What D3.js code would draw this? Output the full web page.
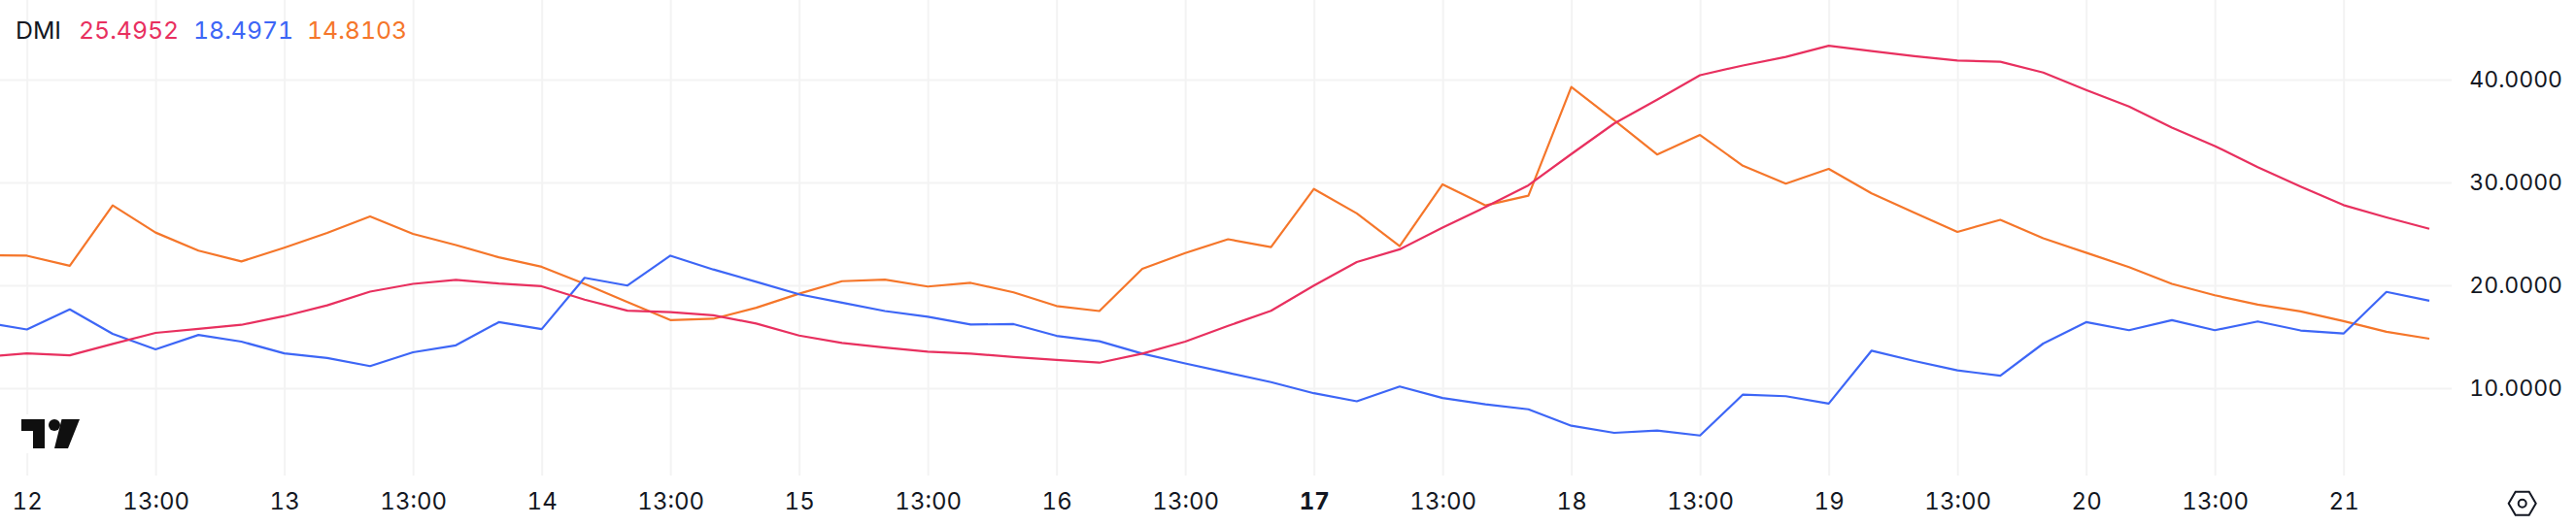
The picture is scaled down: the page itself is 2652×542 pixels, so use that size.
<!DOCTYPE html>
<html>
<head>
<meta charset="utf-8">
<script src="https://cdnjs.cloudflare.com/ajax/libs/d3/7.8.5/d3.min.js"></script>
<style>
	html, body { margin: 0; padding: 0; background: #fff; }
	svg { display: block; }
	text { font-family: Inter, "Noto Sans", sans-serif; fill: #131722; font-variant-numeric: tabular-nums; }
	.domain { display: none; }
	.tick line { stroke: #f3f3f3; stroke-width: 2; }
</style>
</head>
<body>
<div id="chart"></div>
<script>
// DMI values, one every 4 hours-ish
const adx = [13.03,13.39,13.19,14.30,15.38,15.77,16.16,17.01,18.05,19.39,20.14,20.53,20.17,19.91,18.61,17.53,17.40,17.08,16.29,15.12,14.40,13.95,13.55,13.36,13.03,12.74,12.48,13.36,14.53,16.06,17.53,19.98,22.26,23.50,25.62,27.61,29.72,32.76,35.73,38.04,40.42,41.37,42.21,43.29,42.77,42.28,41.86,41.73,40.68,38.99,37.39,35.33,33.54,31.49,29.59,27.80,26.60,25.4952];
const plusDi = [16.42,15.71,17.66,15.28,13.78,15.18,14.53,13.39,12.93,12.15,13.49,14.17,16.42,15.74,20.73,19.98,22.88,21.54,20.34,19.13,18.31,17.50,16.94,16.19,16.23,15.09,14.56,13.36,12.41,11.50,10.59,9.51,8.73,10.16,9.05,8.43,7.95,6.35,5.66,5.89,5.40,9.38,9.22,8.50,13.65,12.64,11.73,11.21,14.34,16.42,15.64,16.62,15.64,16.49,15.61,15.31,19.36,18.4971];
const minusDi = [22.94,22.88,21.90,27.77,25.13,23.37,22.32,23.66,25.10,26.69,25.00,23.92,22.72,21.80,20.14,18.38,16.62,16.75,17.82,19.19,20.40,20.56,19.88,20.24,19.32,17.99,17.50,21.61,23.14,24.48,23.72,29.37,26.99,23.82,29.82,27.77,28.72,39.28,36.05,32.72,34.62,31.62,29.89,31.32,28.94,27.05,25.19,26.37,24.57,23.17,21.77,20.14,19.03,18.12,17.47,16.52,15.48,14.8103];
const tickLabels = ["12","13:00","13","13:00","14","13:00","15","13:00","16","13:00","17","13:00","18","13:00","19","13:00","20","13:00","21"];
const yTicks = [10,20,30,40];
const legendName = "DMI";

const width = 2652, height = 542;
const plotRight = 2524, plotBottom = 490;

const colors = { adx: "#e8305f", plus: "#3d66f6", minus: "#f5762a" };

var svg = d3.select("#chart").append("svg")
	.attr("width", width)
	.attr("height", height);

var x = d3.scaleLinear().domain([0, adx.length - 1]).range([-16.5, 2501]);
var y = d3.scaleLinear().domain([10, 40]).range([400, 82]);

// every third point carries a label, starting at the second one
var tickIdx = tickLabels.map(function(d, i){ return 1 + i * 3 });

var xGrid = svg.append("g")
	.attr("transform", "translate(0," + plotBottom + ")")
	.call(d3.axisBottom(x).tickValues(tickIdx).tickSize(-plotBottom).tickPadding(18)
		.tickFormat(function(d, i){ return tickLabels[i] }));
xGrid.selectAll("text")
	.style("font-size", "24px")
	.style("font-weight", function(d, i){ return tickLabels[i] == "17" ? 700 : 400 });

var yGrid = svg.append("g")
	.attr("transform", "translate(" + plotRight + ",0)")
	.call(d3.axisRight(y).tickValues(yTicks).tickSize(-plotRight).tickPadding(18)
		.tickFormat(d3.format(".4f")));
yGrid.selectAll("text")
	.attr("text-anchor", "end")
	.attr("x", 114)
	.style("font-size", "23px");

var line = d3.line()
	.x(function(d, i){ return x(i) })
	.y(function(d){ return y(d) });

[[minusDi, colors.minus], [plusDi, colors.plus], [adx, colors.adx]].forEach(function(s){
	svg.append("path")
		.datum(s[0])
		.attr("fill", "none")
		.attr("stroke", s[1])
		.attr("stroke-width", 2.2)
		.attr("stroke-linejoin", "round")
		.attr("d", line);
});

// legend
var legend = svg.append("g").style("font-size", "24.8px");
legend.append("text").attr("x", 16).attr("y", 40).text(legendName);
[[adx, colors.adx, 81], [plusDi, colors.plus, 199], [minusDi, colors.minus, 316]].forEach(function(s){
	legend.append("text")
		.attr("x", s[2])
		.attr("y", 40)
		.style("fill", s[1])
		.text(d3.format(".4f")(s[0][s[0].length - 1]));
});

// tradingview logo
var logo = svg.append("g");
logo.append("rect").attr("x", 17).attr("y", 427).attr("width", 70).attr("height", 40).attr("fill", "#fff");
logo.append("path").attr("fill", "#0f0f0f").attr("d", "M22 432H46V462H34V444H22Z");
logo.append("circle").attr("fill", "#0f0f0f").attr("cx", 56).attr("cy", 438).attr("r", 6);
logo.append("path").attr("fill", "#0f0f0f").attr("d", "M63.5 432H82L70 462H56Z");

// settings hexagon
var hex = svg.append("g").attr("transform", "translate(2596.7,518.7)")
	.attr("fill", "none").attr("stroke", "#131722").attr("stroke-width", 2);
hex.append("path").attr("d", "M-14 0L-7 -12H7L14 0L7 12H-7Z");
hex.append("circle").attr("r", 4);
</script>
</body>
</html>
